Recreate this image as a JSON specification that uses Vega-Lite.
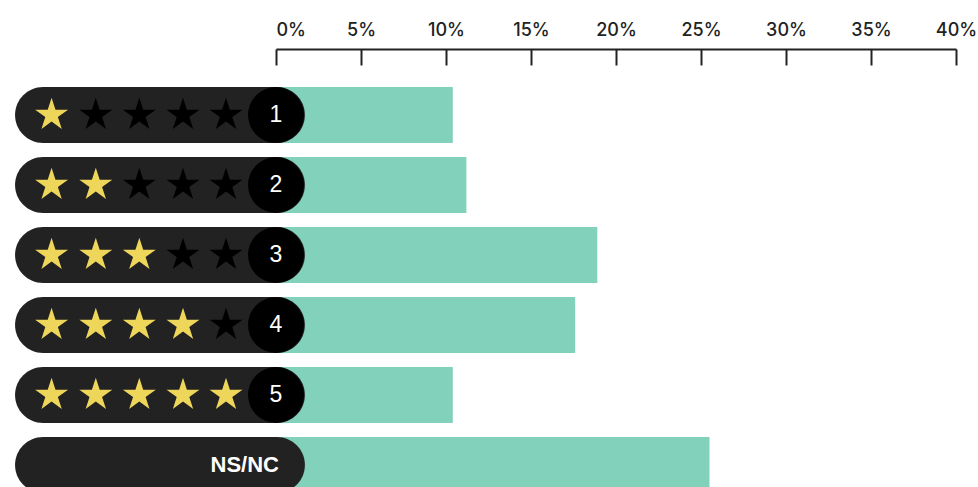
{
  "$schema": "https://vega.github.io/schema/vega-lite/v6.json",
  "autosize": "none",
  "padding": {"left": 276, "top": 49, "right": 22, "bottom": 0},
  "width": 680,
  "height": 482,
  "background": "#ffffff",
  "config": {"view": {"stroke": null}},
  "datasets": {
    "bars": [
      {"rating": "1", "pct": 10.4},
      {"rating": "2", "pct": 11.2},
      {"rating": "3", "pct": 18.9},
      {"rating": "4", "pct": 17.6},
      {"rating": "5", "pct": 10.4},
      {"rating": "NS/NC", "pct": 25.5}
    ],
    "stars": [
      {"rating": "1", "star": 1, "filled": true},
      {"rating": "1", "star": 2, "filled": false},
      {"rating": "1", "star": 3, "filled": false},
      {"rating": "1", "star": 4, "filled": false},
      {"rating": "1", "star": 5, "filled": false},
      {"rating": "2", "star": 1, "filled": true},
      {"rating": "2", "star": 2, "filled": true},
      {"rating": "2", "star": 3, "filled": false},
      {"rating": "2", "star": 4, "filled": false},
      {"rating": "2", "star": 5, "filled": false},
      {"rating": "3", "star": 1, "filled": true},
      {"rating": "3", "star": 2, "filled": true},
      {"rating": "3", "star": 3, "filled": true},
      {"rating": "3", "star": 4, "filled": false},
      {"rating": "3", "star": 5, "filled": false},
      {"rating": "4", "star": 1, "filled": true},
      {"rating": "4", "star": 2, "filled": true},
      {"rating": "4", "star": 3, "filled": true},
      {"rating": "4", "star": 4, "filled": true},
      {"rating": "4", "star": 5, "filled": false},
      {"rating": "5", "star": 1, "filled": true},
      {"rating": "5", "star": 2, "filled": true},
      {"rating": "5", "star": 3, "filled": true},
      {"rating": "5", "star": 4, "filled": true},
      {"rating": "5", "star": 5, "filled": true}
    ]
  },
  "encoding": {
    "y": {
      "field": "rating",
      "type": "nominal",
      "scale": {
        "domain": ["1", "2", "3", "4", "5", "NS/NC"],
        "paddingInner": 0.2,
        "paddingOuter": 0.543
      },
      "axis": null
    }
  },
  "layer": [
    {
      "data": {"name": "bars"},
      "mark": {"type": "bar", "color": "#81d1bb"},
      "encoding": {
        "x": {
          "field": "pct",
          "type": "quantitative",
          "scale": {"domain": [0, 40], "nice": false},
          "axis": {
            "orient": "top",
            "values": [0, 5, 10, 15, 20, 25, 30, 35, 40],
            "labelExpr": "datum.value + '%'",
            "title": null,
            "grid": false,
            "domainColor": "#222222",
            "domainWidth": 2,
            "tickColor": "#222222",
            "tickWidth": 2,
            "tickSize": -16,
            "labelFont": "Inter",
            "labelFontSize": 18,
            "labelFontWeight": 500,
            "labelColor": "#222222",
            "labelPadding": 26,
            "labelAlign": {"condition": {"test": "datum.value == 0", "value": "left"}, "value": "center"}
          }
        },
        "x2": {"datum": -2}
      }
    },
    {
      "data": {"name": "bars"},
      "mark": {"type": "bar", "color": "#222222", "cornerRadius": 28},
      "encoding": {
        "x": {"datum": -15.35, "type": "quantitative"},
        "x2": {"datum": 1.7}
      }
    },
    {
      "data": {"name": "bars"},
      "transform": [{"filter": "datum.rating != 'NS/NC'"}],
      "mark": {"type": "point", "shape": "circle", "filled": true, "opacity": 1, "size": 3136, "color": "#000000"},
      "encoding": {
        "x": {"datum": 0, "type": "quantitative"}
      }
    },
    {
      "data": {"name": "bars"},
      "transform": [{"filter": "datum.rating != 'NS/NC'"}],
      "mark": {"type": "text", "font": "Liberation Sans", "fontSize": 23, "color": "#ffffff", "align": "center", "baseline": "middle"},
      "encoding": {
        "x": {"datum": 0, "type": "quantitative"},
        "text": {"field": "rating"}
      }
    },
    {
      "data": {"name": "bars"},
      "transform": [{"filter": "datum.rating == 'NS/NC'"}],
      "mark": {"type": "text", "font": "Liberation Sans", "fontSize": 22, "fontWeight": "bold", "color": "#ffffff", "align": "right", "baseline": "middle", "dx": 3},
      "encoding": {
        "x": {"datum": 0, "type": "quantitative"},
        "text": {"field": "rating"}
      }
    },
    {
      "data": {"name": "stars"},
      "transform": [{"filter": "datum.star == 1"}],
      "mark": {"type": "point", "shape": "M0,-1L0.2245,-0.309L0.951,-0.309L0.363,0.118L0.588,0.809L0,0.382L-0.588,0.809L-0.363,0.118L-0.951,-0.309L-0.2245,-0.309Z", "filled": true, "opacity": 1, "size": 1200},
      "encoding": {
        "x": {"datum": -13.2, "type": "quantitative"},
        "color": {"condition": {"test": "datum.filled", "value": "#eed65b"}, "value": "#000000"}
      }
    },
    {
      "data": {"name": "stars"},
      "transform": [{"filter": "datum.star == 2"}],
      "mark": {"type": "point", "shape": "M0,-1L0.2245,-0.309L0.951,-0.309L0.363,0.118L0.588,0.809L0,0.382L-0.588,0.809L-0.363,0.118L-0.951,-0.309L-0.2245,-0.309Z", "filled": true, "opacity": 1, "size": 1200},
      "encoding": {
        "x": {"datum": -10.6, "type": "quantitative"},
        "color": {"condition": {"test": "datum.filled", "value": "#eed65b"}, "value": "#000000"}
      }
    },
    {
      "data": {"name": "stars"},
      "transform": [{"filter": "datum.star == 3"}],
      "mark": {"type": "point", "shape": "M0,-1L0.2245,-0.309L0.951,-0.309L0.363,0.118L0.588,0.809L0,0.382L-0.588,0.809L-0.363,0.118L-0.951,-0.309L-0.2245,-0.309Z", "filled": true, "opacity": 1, "size": 1200},
      "encoding": {
        "x": {"datum": -8.04, "type": "quantitative"},
        "color": {"condition": {"test": "datum.filled", "value": "#eed65b"}, "value": "#000000"}
      }
    },
    {
      "data": {"name": "stars"},
      "transform": [{"filter": "datum.star == 4"}],
      "mark": {"type": "point", "shape": "M0,-1L0.2245,-0.309L0.951,-0.309L0.363,0.118L0.588,0.809L0,0.382L-0.588,0.809L-0.363,0.118L-0.951,-0.309L-0.2245,-0.309Z", "filled": true, "opacity": 1, "size": 1200},
      "encoding": {
        "x": {"datum": -5.47, "type": "quantitative"},
        "color": {"condition": {"test": "datum.filled", "value": "#eed65b"}, "value": "#000000"}
      }
    },
    {
      "data": {"name": "stars"},
      "transform": [{"filter": "datum.star == 5"}],
      "mark": {"type": "point", "shape": "M0,-1L0.2245,-0.309L0.951,-0.309L0.363,0.118L0.588,0.809L0,0.382L-0.588,0.809L-0.363,0.118L-0.951,-0.309L-0.2245,-0.309Z", "filled": true, "opacity": 1, "size": 1200},
      "encoding": {
        "x": {"datum": -2.94, "type": "quantitative"},
        "color": {"condition": {"test": "datum.filled", "value": "#eed65b"}, "value": "#000000"}
      }
    }
  ]
}
